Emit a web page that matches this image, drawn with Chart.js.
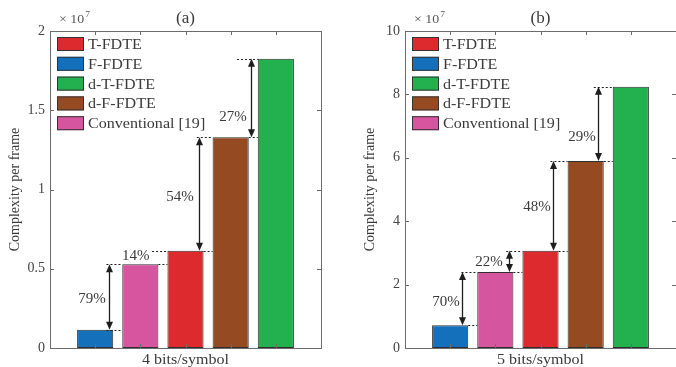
<!DOCTYPE html>
<html lang="en">
<head>
<meta charset="UTF-8">
<title>Complexity per frame</title>
<script src="https://cdn.jsdelivr.net/npm/chart.js@4"></script>
<style>
  body { margin: 0; background: #fff; overflow: hidden; }
  .panel { position: absolute; top: 0; height: 367px; }
  #wrapA { left: 0; width: 338px; }
  #wrapB { left: 338px; width: 340px; }
</style>
</head>
<body>
<div class="panel" id="wrapA"><canvas id="chartA" width="338" height="367"></canvas></div>
<div class="panel" id="wrapB"><canvas id="chartB" width="340" height="367"></canvas></div>
<script>
// series in legend order
const seriesNames = ['T-FDTE', 'F-FDTE', 'd-T-FDTE', 'd-F-FDTE', 'Conventional [19]'];
const seriesColors = ['#dc2a2f', '#1470bb', '#23b04f', '#964a22', '#d5559f'];
const barSlots = [3, 1, 5, 4, 2];           // bar position of each series along x
const valuesA = [0.614, 0.115, 1.825, 1.329, 0.528];   // x 10^7, 4 bits/symbol
const valuesB = [3.07, 0.716, 8.24, 5.90, 2.40];       // x 10^7, 5 bits/symbol
const yTicksA = [0, 0.5, 1, 1.5, 2];
const yTicksB = [0, 2, 4, 6, 8, 10];
const xTitles = ['4 bits/symbol', '5 bits/symbol'];
const panelTitles = ['(a)', '(b)'];
const yTitle = 'Complexity per frame';
// reduction between neighbouring bars (slot k -> slot k+1)
const noteTextA = ['79%', '14%', '54%', '27%'];
const noteTextB = ['70%', '22%', '48%', '29%'];

// where the arrows / dotted guides / labels sit, in axis units
const notePlaceA = [
  { arrow: true,  ax: 1.31, loFrom: 1.25, hiFrom: 1.25, tx: 0.93, ty: 0.31 },
  { arrow: false, ax: 0,    loFrom: 2.4,  hiFrom: 2.26, tx: 1.90, ty: 0.58 },
  { arrow: true,  ax: 3.30, loFrom: 3.4,  hiFrom: 3.25, tx: 2.88, ty: 0.95 },
  { arrow: true,  ax: 4.44, loFrom: 4.4,  hiFrom: 4.14, tx: 4.05, ty: 1.46 }
];
const notePlaceB = [
  { arrow: true, ax: 1.27, loFrom: 1.4, hiFrom: 1.25, tx: 0.91, ty: 1.45 },
  { arrow: true, ax: 2.30, loFrom: 2.4, hiFrom: 2.24, tx: 1.86, ty: 2.71 },
  { arrow: true, ax: 3.28, loFrom: 3.4, hiFrom: 3.22, tx: 2.92, ty: 4.45 },
  { arrow: true, ax: 4.27, loFrom: 4.4, hiFrom: 4.18, tx: 3.92, ty: 6.66 }
];

const SERIF = "'Liberation Serif', 'Times New Roman', serif";
const TXT = '#3a3a3a';
const STRETCH = 1.07;

function stretchedText(ctx, text, x, y, size, align) {
  ctx.save();
  ctx.font = size + 'px ' + SERIF;
  const w = ctx.measureText(text).width * STRETCH;
  let x0 = x;
  if (align === 'center') x0 = x - w / 2;
  if (align === 'right') x0 = x - w;
  ctx.translate(x0, y);
  ctx.scale(STRETCH, 1);
  ctx.textAlign = 'left';
  ctx.fillText(text, 0, 0);
  ctx.restore();
}

function arrowHead(ctx, x, y, dir) {
  ctx.beginPath();
  ctx.moveTo(x, y);
  ctx.lineTo(x - 3.5, y - dir * 8);
  ctx.lineTo(x + 3.5, y - dir * 8);
  ctx.closePath();
  ctx.fill();
}

function valueAtSlot(values, slot) {
  return values[barSlots.indexOf(slot)];
}

const decorPlugin = {
  id: 'decor',
  afterDraw(chart) {
    const cfg = chart.options.plugins.decor;
    const ctx = chart.ctx;
    const xs = chart.scales.x, ys = chart.scales.y;
    const a = chart.chartArea;

    // dotted guides and arrows
    ctx.save();
    ctx.strokeStyle = '#1e1e1e';
    ctx.fillStyle = '#1e1e1e';
    cfg.place.forEach((p, k) => {
      const lo = valueAtSlot(cfg.values, k + 1);
      const hi = valueAtSlot(cfg.values, k + 2);
      const yLo = ys.getPixelForValue(lo), yHi = ys.getPixelForValue(hi);
      const xEnd = xs.getPixelForValue(k + 2 - 0.4);
      ctx.setLineDash([2, 2]);
      ctx.lineWidth = 1;
      ctx.beginPath();
      ctx.moveTo(xs.getPixelForValue(p.loFrom), Math.round(yLo) + 0.5);
      ctx.lineTo(xEnd, Math.round(yLo) + 0.5);
      ctx.moveTo(xs.getPixelForValue(p.hiFrom), Math.round(yHi) + 0.5);
      ctx.lineTo(xEnd, Math.round(yHi) + 0.5);
      ctx.stroke();
      ctx.setLineDash([]);
      if (p.arrow) {
        const xa = Math.round(xs.getPixelForValue(p.ax)) + 0.5;
        ctx.lineWidth = 1.3;
        ctx.beginPath();
        ctx.moveTo(xa, yLo - 4);
        ctx.lineTo(xa, yHi + 4);
        ctx.stroke();
        arrowHead(ctx, xa, yLo, 1);
        arrowHead(ctx, xa, yHi, -1);
      }
      ctx.fillStyle = TXT;
      ctx.textBaseline = 'middle';
      ctx.font = '15px ' + SERIF;
      ctx.textAlign = 'center';
      ctx.fillText(cfg.notes[k], xs.getPixelForValue(p.tx), ys.getPixelForValue(p.ty));
      ctx.fillStyle = '#1e1e1e';
    });
    ctx.restore();

    // axes box with inward ticks
    ctx.save();
    ctx.strokeStyle = '#6b6b6b';
    ctx.lineWidth = 1;
    ctx.strokeRect(Math.round(a.left) + 0.5, Math.round(a.top) + 0.5,
                   Math.round(a.right - a.left), Math.round(a.bottom - a.top));
    ctx.beginPath();
    cfg.yTicks.forEach(v => {
      const py = Math.round(ys.getPixelForValue(v)) + 0.5;
      ctx.moveTo(a.left, py); ctx.lineTo(a.left + 4, py);
      ctx.moveTo(a.right, py); ctx.lineTo(a.right - 4, py);
    });
    [1, 2, 3, 4, 5].forEach(s => {
      const px = Math.round(xs.getPixelForValue(s)) + 0.5;
      ctx.moveTo(px, a.bottom); ctx.lineTo(px, a.bottom - 4);
      ctx.moveTo(px, a.top); ctx.lineTo(px, a.top + 4);
    });
    ctx.stroke();
    ctx.restore();

    // legend in the upper left corner
    ctx.save();
    chart.data.datasets.forEach((ds, i) => {
      const cy = a.top + 13 + i * 19.8;
      ctx.fillStyle = ds.backgroundColor;
      ctx.fillRect(a.left + 7, cy - 7, 27, 14);
      ctx.strokeStyle = '#333';
      ctx.lineWidth = 1;
      ctx.strokeRect(a.left + 7.5, cy - 6.5, 26, 13);
      ctx.fillStyle = TXT;
      ctx.textBaseline = 'middle';
      stretchedText(ctx, ds.label, a.left + 38, cy + 1, 15, 'left');
    });
    ctx.restore();

    // texts around the axes
    ctx.save();
    ctx.fillStyle = TXT;
    ctx.textBaseline = 'alphabetic';
    const mid = (a.left + a.right) / 2;
    stretchedText(ctx, cfg.title, mid, 23, 16, 'center');
    stretchedText(ctx, cfg.xTitle, mid, 364, 15, 'center');
    ctx.fillStyle = '#555';
    stretchedText(ctx, '\u00d7 10', a.left + 9, 23, 13, 'left');
    ctx.font = '13px ' + SERIF;
    const w10 = ctx.measureText('\u00d7 10').width * STRETCH;
    stretchedText(ctx, '7', a.left + 9 + w10 + 1, 17, 9, 'left');
    ctx.fillStyle = TXT;
    ctx.translate(a.left - 35, (a.top + a.bottom) / 2);
    ctx.rotate(-Math.PI / 2);
    ctx.textAlign = 'center';
    ctx.textBaseline = 'middle';
    ctx.font = '14px ' + SERIF;
    ctx.fillText(yTitle, 0, 0);
    ctx.restore();
  }
};

function makePanel(id, values, yTicks, notes, place, title, xTitle, axisWidth, padRight) {
  const datasets = seriesNames.map((name, i) => ({
    label: name,
    data: [{ x: barSlots[i], y: values[i] }],
    backgroundColor: seriesColors[i],
    borderColor: '#2e2e2e',
    borderWidth: 1,
    borderSkipped: false,
    grouped: false,
    barPercentage: 0.8,
    categoryPercentage: 1
  }));
  return new Chart(document.getElementById(id), {
    type: 'bar',
    data: { datasets },
    plugins: [decorPlugin],
    options: {
      responsive: false,
      animation: false,
      layout: { padding: { top: 31, right: padRight, left: 0, bottom: 0 } },
      plugins: {
        legend: { display: false },
        tooltip: { enabled: false },
        decor: { values, yTicks, notes, place, title, xTitle }
      },
      scales: {
        x: {
          type: 'linear', min: 0, max: 6, offset: false,
          grid: { display: false }, border: { display: false },
          ticks: { display: false },
          afterFit: s => { s.height = 19; }
        },
        y: {
          min: yTicks[0], max: yTicks[yTicks.length - 1],
          grid: { display: false, drawTicks: false }, border: { display: false },
          ticks: {
            color: '#444', font: { family: SERIF, size: 14 }, padding: 5,
            callback: v => String(v)
          },
          afterBuildTicks: s => { s.ticks = yTicks.map(v => ({ value: v })); },
          afterFit: s => { s.width = axisWidth; }
        }
      }
    }
  });
}

makePanel('chartA', valuesA, yTicksA, noteTextA, notePlaceA, panelTitles[0], xTitles[0], 50, 17);
makePanel('chartB', valuesB, yTicksB, noteTextB, notePlaceB, panelTitles[1], xTitles[1], 67, 2);
</script>
</body>
</html>
